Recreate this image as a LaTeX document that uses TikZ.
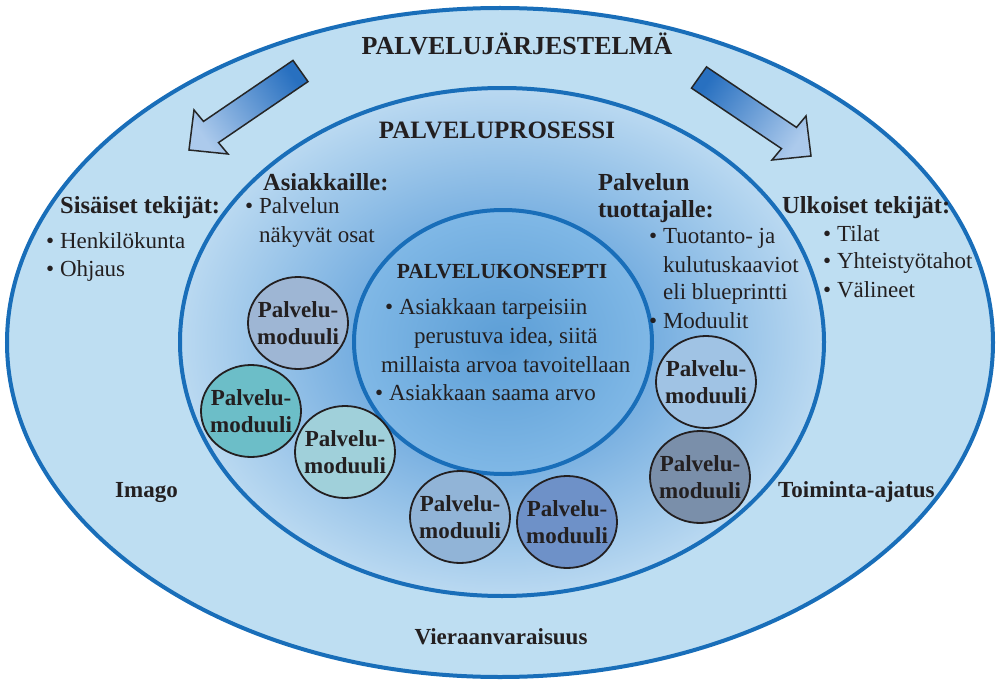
\documentclass[tikz,border=0pt]{standalone}
\usepackage{fontspec}
\setmainfont{Liberation Serif}
\usetikzlibrary{shapes.geometric}
\definecolor{ringblue}{RGB}{190,222,242}
\definecolor{lineblue}{RGB}{25,110,185}
\definecolor{txt}{RGB}{35,31,32}
\definecolor{mida}{RGB}{186,217,241}
\definecolor{midb}{RGB}{118,174,224}
\definecolor{midc}{RGB}{90,155,212}
\definecolor{inna}{RGB}{128,184,230}
\definecolor{innb}{RGB}{92,158,214}
\definecolor{arrdark}{RGB}{40,112,192}
\definecolor{arrlight}{RGB}{172,202,236}
\definecolor{mcA}{RGB}{158,182,212}
\definecolor{mcB}{RGB}{108,190,200}
\definecolor{mcC}{RGB}{160,208,218}
\definecolor{mcD}{RGB}{145,180,215}
\definecolor{mcE}{RGB}{110,145,200}
\definecolor{mcF}{RGB}{160,195,228}
\definecolor{mcG}{RGB}{122,143,170}
\pgfdeclareradialshading{midshade}{\pgfpoint{0bp}{0bp}}{color(0bp)=(midc); color(11.5bp)=(midb); color(25bp)=(mida); color(50bp)=(mida)}
\pgfdeclareradialshading{innshade}{\pgfpoint{0bp}{0bp}}{color(0bp)=(innb); color(25bp)=(inna); color(50bp)=(inna)}
\newcommand\myfs[1]{\fontsize{#1}{#1}\selectfont}
\tikzset{
  ringline/.style={draw=lineblue, line width=4},
  blockarrow/.style={draw=black!85, line width=1.5, line join=miter},
  modring/.style={draw=txt, line width=1.8},
  modtext/.style={inner sep=0, align=center, text=txt, font=\fontsize{23}{27}\selectfont\bfseries},
  ttl/.style={inner sep=0, anchor=base, text=txt, font=\bfseries},
  lbl/.style={inner sep=0, anchor=base west, text=txt, font=\myfs{24.5}\bfseries},
  itm/.style={inner sep=0, anchor=base west, text=txt, font=\myfs{23}},
  side/.style={inner sep=0, anchor=base west, text=txt, font=\myfs{23}\bfseries}
}
\begin{document}
\begin{tikzpicture}[x=1pt,y=-1pt]
\useasboundingbox (0,0) rectangle (999,682);
% outer ring
\fill[ringblue] (500,342.5) ellipse [x radius=493, y radius=334.5];
\draw[ringline] (500,342.5) ellipse [x radius=493, y radius=334.5];
% middle
\shade[shading=midshade] (502,342) ellipse [x radius=322, y radius=254];
\draw[ringline] (502,342) ellipse [x radius=322, y radius=254];
% inner
\shade[shading=innshade] (503,342) ellipse [x radius=149, y radius=132];
\draw[ringline] (503,342) ellipse [x radius=149, y radius=132];
% arrows
\draw[blockarrow, top color=arrlight, bottom color=arrdark, shading angle=125]
  (293,60.4) -- (308,81.6) -- (218.5,142.6) -- (228,154) -- (189,150) -- (194,110) -- (203.5,121.4) -- cycle;
\draw[blockarrow, top color=arrlight, bottom color=arrdark, shading angle=235]
  (706.5,66.9) -- (796.5,127.4) -- (806,116) -- (811,156) -- (772,160) -- (781.5,148.6) -- (691.5,88.1) -- cycle;
% titles
\node[ttl, font=\myfs{26}\bfseries] (t1) at (517,55) {PALVELUJÄRJESTELMÄ};
\node[ttl, font=\myfs{25}\bfseries] (t2) at (497,139) {PALVELUPROSESSI};
\node[ttl, font=\myfs{21.5}\bfseries] (t3) at (502,278) {PALVELUKONSEPTI};
% left outer
\node[lbl] (sis) at (60,213) {Sisäiset tekijät:};
\node[itm] (sis1) at (46,248) {• Henkilökunta};
\node[itm] (sis2) at (46,276) {• Ohjaus};
% asiakkaille
\node[lbl] (asi) at (263,190) {Asiakkaille:};
\node[itm] (asi1) at (245,213) {• Palvelun};
\node[itm] (asi2) at (259,242) {näkyvät osat};
% tuottajalle
\node[lbl] (tuo) at (598,190) {Palvelun};
\node[lbl] (tuo0) at (598,218) {tuottajalle:};
\node[itm] (tuo1) at (649,243) {• Tuotanto- ja};
\node[itm] (tuo2) at (663,272) {kulutuskaaviot};
\node[itm] (tuo3) at (663,299) {eli blueprintti};
\node[itm] (tuo4) at (649,328) {• Moduulit};
% ulkoiset
\node[lbl] (ulk) at (782,213) {Ulkoiset tekijät:};
\node[itm] (ulk1) at (823,241) {• Tilat};
\node[itm] (ulk2) at (823,268) {• Yhteistyötahot};
\node[itm] (ulk3) at (823,297) {• Välineet};
% concept
\node[itm] (k1) at (385,314) {• Asiakkaan tarpeisiin};
\node[itm] (k2) at (414,343) {perustuva idea, siitä};
\node[itm] (k3) at (381,372) {millaista arvoa tavoitellaan};
\node[itm] (k4) at (375,400) {• Asiakkaan saama arvo};
% side labels
\node[side] (imago) at (115,497) {Imago};
\node[side] (toim) at (778,497) {Toiminta-ajatus};
\node[ttl, font=\myfs{23}\bfseries] (vier) at (501,644) {Vieraanvaraisuus};
% modules
\draw[modring, fill=mcA] (298,323) ellipse [x radius=50, y radius=46] node[modtext] (m1) {Palvelu-\\moduuli};
\draw[modring, fill=mcB] (251,411) ellipse [x radius=50, y radius=46] node[modtext] (m2) {Palvelu-\\moduuli};
\draw[modring, fill=mcC] (345,452) ellipse [x radius=50, y radius=46] node[modtext] (m3) {Palvelu-\\moduuli};
\draw[modring, fill=mcD] (460,517) ellipse [x radius=50, y radius=46] node[modtext] (m4) {Palvelu-\\moduuli};
\draw[modring, fill=mcE] (567,522) ellipse [x radius=50, y radius=46] node[modtext] (m5) {Palvelu-\\moduuli};
\draw[modring, fill=mcF] (706,382) ellipse [x radius=50, y radius=46] node[modtext] (m6) {Palvelu-\\moduuli};
\draw[modring, fill=mcG] (700,477) ellipse [x radius=50, y radius=46] node[modtext] (m7) {Palvelu-\\moduuli};
\end{tikzpicture}
\end{document}
